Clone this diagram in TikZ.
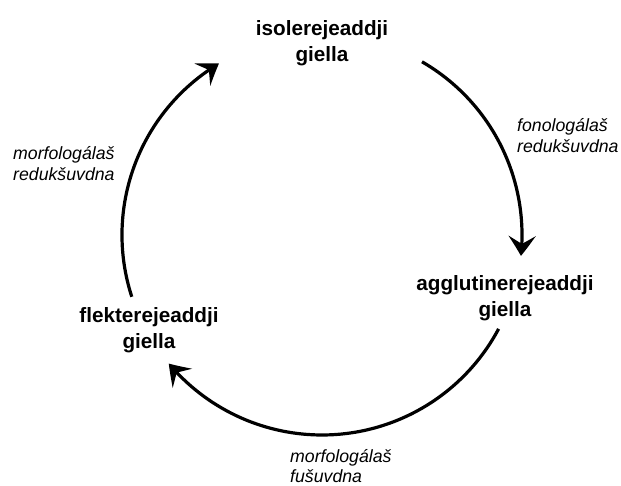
\documentclass[tikz,border=0pt]{standalone}
\usepackage{fontspec}
\setmainfont{Liberation Sans}
\usetikzlibrary{arrows.meta,bending}
\begin{document}
\begin{tikzpicture}[x=1pt,y=1pt,
  lang/.style={font=\fontsize{20.7}{26}\selectfont\bfseries, align=center, inner sep=0pt},
  proc/.style={font=\fontsize{17.7}{20.5}\selectfont\itshape, align=left, inner sep=0pt, anchor=west},
  cyc/.style={line width=3.2pt, -{Stealth[length=20pt,width=27pt,inset=8pt,bend]}}]
\useasboundingbox (0,0) rectangle (621,486);
% nodes
\node[lang] (iso) at (322,443) {isolerejeaddji\\giella};
\node[lang] (agg) at (505,188) {agglutinerejeaddji\\giella};
\node[lang] (flek) at (149,156) {flekterejeaddji\\giella};
% labels
\node[proc] (fonred) at (517,350.5) {fonologálaš\\redukšuvdna};
\node[proc] (morfred) at (13,322.5) {morfologálaš\\redukšuvdna};
\node[proc] (morffus) at (290,20) {morfologálaš\\fušuvdna};
% cycle
\coordinate (c) at (322,251);
\coordinate (a1) at ([shift={(60:200pt)}]c);
\coordinate (b1) at ([shift={(-28:200pt)}]c);
\coordinate (d1) at ([shift={(198:200pt)}]c);
\draw[cyc] (a1) arc[start angle=60, end angle=-6, radius=200pt];
\draw[cyc] (b1) arc[start angle=-28, end angle=-140, radius=200pt];
\draw[cyc] (d1) arc[start angle=198, end angle=121, radius=200pt];
\end{tikzpicture}
\end{document}
